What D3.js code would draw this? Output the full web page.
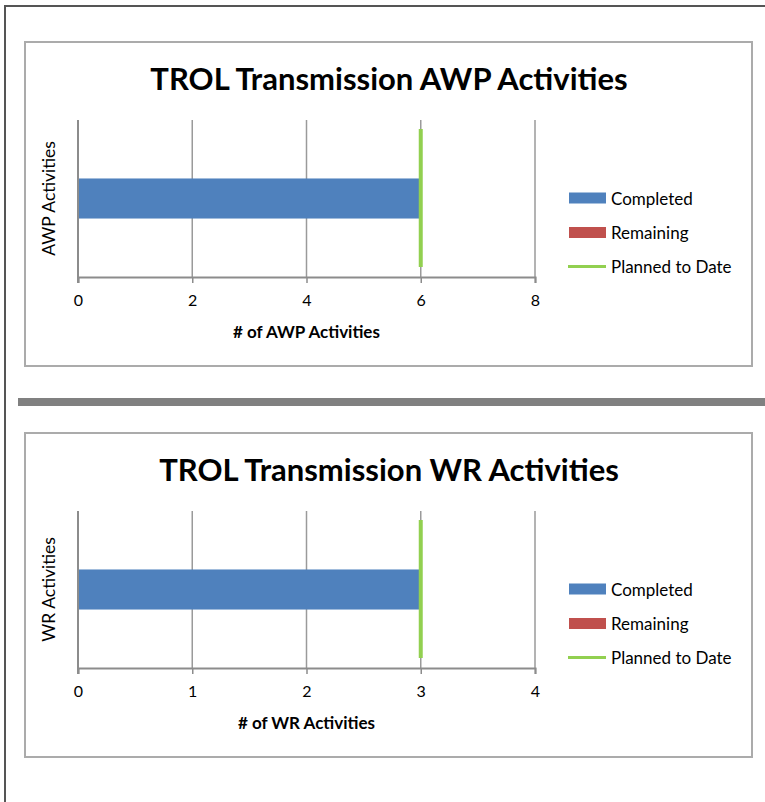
<!DOCTYPE html>
<html>
<head>
<meta charset="utf-8">
<script src="https://cdn.jsdelivr.net/npm/d3@7"></script>
<style>
  html, body { margin: 0; padding: 0; background: #fff; }
  svg { display: block; }
  text { font-family: Lato, "Open Sans", sans-serif; fill: #000; }
</style>
</head>
<body>
<svg id="chart" width="765" height="802"></svg>
<script>
// ---------- data ----------
const chartTitles = ["TROL Transmission AWP Activities", "TROL Transmission WR Activities"];
const xAxisTitles = ["# of AWP Activities", "# of WR Activities"];
const categoriesAWP = ["AWP Activities"];
const categoriesWR = ["WR Activities"];
const completedAWP = [6];
const remainingAWP = [0];
const plannedAWP = [6];
const completedWR = [3];
const remainingWR = [0];
const plannedWR = [3];
const ticksAWP = [0, 2, 4, 6, 8];
const ticksWR = [0, 1, 2, 3, 4];
const legendLabels = ["Completed", "Remaining", "Planned to Date"];

const colors = { completed: "#4F81BD", remaining: "#C0504D", planned: "#92D050" };

const svg = d3.select("#chart");

// outer page frame
svg.append("line").attr("x1", 4).attr("x2", 765).attr("y1", 6).attr("y2", 6)
  .attr("stroke", "#555").attr("stroke-width", 2);
svg.append("line").attr("x1", 5).attr("x2", 5).attr("y1", 5).attr("y2", 802)
  .attr("stroke", "#555").attr("stroke-width", 2);

// separator bar
svg.append("rect").attr("x", 18).attr("y", 398).attr("width", 747).attr("height", 8)
  .attr("fill", "#808080");

function drawChart(cfg) {
  const g = svg.append("g").attr("transform", `translate(0,${cfg.offsetY})`);
  // chart frame
  g.append("rect").attr("x", 25).attr("y", 42).attr("width", 727).attr("height", cfg.boxH)
    .attr("fill", "#fff").attr("stroke", "#ababab").attr("stroke-width", 2);

  // title
  g.append("text").attr("x", 389).attr("y", 78).attr("text-anchor", "middle")
    .attr("dominant-baseline", "central")
    .style("font-size", "31px").style("font-weight", "bold").text(cfg.title);

  const plotTop = 120, plotBottom = 277, plotLeft = 78, plotRight = 535;
  const x = d3.scaleLinear().domain([cfg.ticks[0], cfg.ticks[cfg.ticks.length - 1]]).range([plotLeft, plotRight]);
  const y = d3.scaleBand().domain(cfg.categories).range([plotTop, plotBottom])
    .paddingInner(0).paddingOuter(1.46);

  // gridlines
  g.append("g").selectAll("line").data(cfg.ticks).join("line")
    .attr("x1", d => x(d)).attr("x2", d => x(d))
    .attr("y1", plotTop).attr("y2", plotBottom)
    .attr("stroke", "#9a9a9a").attr("stroke-width", 1.5);

  // bars: completed then remaining stacked
  const stackData = cfg.categories.map((c, i) => ({ cat: c, completed: cfg.completed[i], remaining: cfg.remaining[i] }));
  const stack = d3.stack().keys(["completed", "remaining"])(stackData);
  g.append("g").selectAll("g").data(stack).join("g")
    .attr("fill", d => colors[d.key])
    .selectAll("rect").data(d => d).join("rect")
    .attr("x", d => x(d[0]) + 1)
    .attr("width", d => Math.max(0, x(d[1]) - x(d[0]) - 1))
    .attr("y", d => y(d.data.cat))
    .attr("height", y.bandwidth());

  // x axis
  const axis = g.append("g").attr("transform", `translate(0,${plotBottom})`)
    .call(d3.axisBottom(x).tickValues(cfg.ticks).tickFormat(d3.format("d"))
      .tickSize(6).tickSizeOuter(6).tickPadding(12));
  axis.select(".domain").attr("stroke", "#8c8c8c").attr("stroke-width", 2);
  axis.selectAll(".tick line").attr("stroke", "#8c8c8c").attr("stroke-width", 1.5);
  axis.selectAll(".tick text").style("font-size", "16px").style("font-family", "Lato, sans-serif").attr("fill", "#000");

  // left axis line
  g.append("line").attr("x1", plotLeft).attr("x2", plotLeft).attr("y1", plotTop).attr("y2", plotBottom + 6)
    .attr("stroke", "#8c8c8c").attr("stroke-width", 2);

  // planned to date line
  g.append("g").selectAll("line").data(cfg.planned).join("line")
    .attr("x1", d => x(d)).attr("x2", d => x(d))
    .attr("y1", plotTop + 9).attr("y2", plotBottom - 10)
    .attr("stroke", colors.planned).attr("stroke-width", 4);

  // axis titles
  g.append("text").attr("x", (plotLeft + plotRight) / 2).attr("y", 331)
    .attr("text-anchor", "middle").attr("dominant-baseline", "central")
    .style("font-size", "17px").style("font-weight", "bold").text(cfg.xTitle);
  g.append("text").attr("transform", `translate(48,${(plotTop + plotBottom) / 2}) rotate(-90)`)
    .attr("text-anchor", "middle").attr("dominant-baseline", "central")
    .style("font-size", "17.5px").text(cfg.categories[0]);

  // legend
  const leg = g.append("g");
  const legY = [198, 232.5, 266.5];
  legendLabels.forEach((lab, i) => {
    if (i < 2) {
      leg.append("rect").attr("x", 569).attr("y", legY[i] - 5.5).attr("width", 37).attr("height", 11)
        .attr("fill", i === 0 ? colors.completed : colors.remaining);
    } else {
      leg.append("line").attr("x1", 568).attr("x2", 606).attr("y1", legY[i]).attr("y2", legY[i])
        .attr("stroke", colors.planned).attr("stroke-width", 3);
    }
    leg.append("text").attr("x", 611).attr("y", legY[i]).attr("dominant-baseline", "central")
      .style("font-size", "17px").text(lab);
  });
}

drawChart({ offsetY: 0, boxH: 324, title: chartTitles[0], xTitle: xAxisTitles[0], categories: categoriesAWP,
  completed: completedAWP, remaining: remainingAWP, planned: plannedAWP, ticks: ticksAWP });
drawChart({ offsetY: 391, boxH: 324, title: chartTitles[1], xTitle: xAxisTitles[1], categories: categoriesWR,
  completed: completedWR, remaining: remainingWR, planned: plannedWR, ticks: ticksWR });
</script>
</body>
</html>
